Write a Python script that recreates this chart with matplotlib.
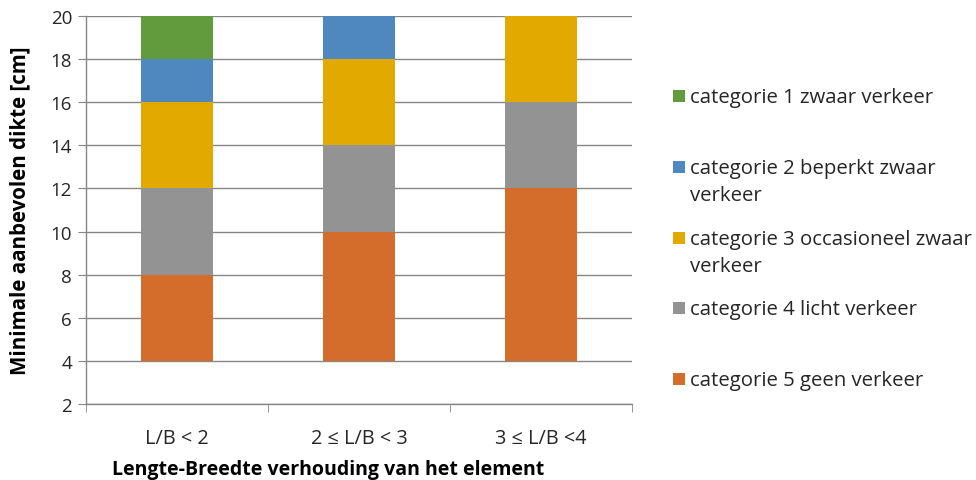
import matplotlib
matplotlib.use('Agg')
import matplotlib.pyplot as plt
from matplotlib.patches import Rectangle
import numpy as np

plt.rcParams['font.family'] = ['Open Sans', 'DejaVu Sans']

# Gegevens
klassen = ['L/B < 2', '2 ≤ L/B < 3', '3 ≤ L/B <4']
basis = [4, 4, 4]  # onzichtbare onderste reeks
cat5 = [4, 6, 8]
cat4 = [4, 4, 4]
cat3 = [4, 4, 4]
cat2 = [2, 2, 0]
cat1 = [2, 0, 0]

reeksen = [cat5, cat4, cat3, cat2, cat1]
namen = ['categorie 5 geen verkeer',
         'categorie 4 licht verkeer',
         'categorie 3 occasioneel zwaar\nverkeer',
         'categorie 2 beperkt zwaar\nverkeer',
         'categorie 1 zwaar verkeer']
kleuren = ['#D46D2B', '#939393', '#E2A900', '#4F88BE', '#629B3E']

W, H = 976, 481
fig = plt.figure(figsize=(W / 100, H / 100), dpi=100)
ax = fig.add_axes([86 / W, 1 - 405 / H, (632 - 86) / W, (405 - 17) / H])

x = np.arange(len(klassen))
onder = np.array(basis, dtype=float)
for waarden, kleur in zip(reeksen, kleuren):
    ax.bar(x, waarden, bottom=onder, width=0.4, color=kleur, zorder=3)
    onder += np.array(waarden)

ax.set_xlim(-0.5, len(klassen) - 0.5)
ax.set_ylim(2, 20)
ax.set_yticks(np.arange(2, 21, 2))
ax.grid(axis='y', color='#868686', linewidth=1, zorder=0)

grijs = '#868686'
for s in ['top', 'right']:
    ax.spines[s].set_visible(False)
for s in ['left', 'bottom']:
    ax.spines[s].set_color(grijs)
    ax.spines[s].set_linewidth(1)

ax.set_xticks(x)
ax.set_xticklabels(klassen)
ax.set_xticks(np.arange(-0.5, len(klassen)), minor=True)
ax.tick_params(axis='x', which='major', length=0, pad=17, labelsize=14.3, labelcolor='#262626')
ax.tick_params(axis='x', which='minor', length=6, color=grijs, direction='out')
ax.tick_params(axis='y', length=6, color=grijs, labelsize=13.5, labelcolor='#262626', pad=4)

ax.set_ylabel('Minimale aanbevolen dikte [cm]', fontsize=14.8, fontweight='bold')
ax.yaxis.set_label_coords((20 - 86) / (632 - 86), 0.5)
ax.yaxis.label.set_verticalalignment('center')
ax.set_xlabel('Lengte-Breedte verhouding van het element', fontsize=14, fontweight='bold')
ax.xaxis.set_label_coords((328 - 86) / (632 - 86), -(470 - 405) / (405 - 17))
ax.xaxis.label.set_verticalalignment('center')

# Legenda (categorie 1 bovenaan)
y0, stap = 97, 70.8
for i, (naam, kleur) in enumerate(zip(namen[::-1], kleuren[::-1])):
    yc = y0 + i * stap
    fig.patches.append(Rectangle((673 / W, 1 - (yc + 6) / H), 12 / W, 12 / H,
                                 transform=fig.transFigure, facecolor=kleur,
                                 edgecolor='none'))
    fig.text(690 / W, 1 - (yc - 9) / H, naam, fontsize=14.7, color='#262626',
             va='top', ha='left', linespacing=1.5)

fig.savefig('out.png', dpi=100)
